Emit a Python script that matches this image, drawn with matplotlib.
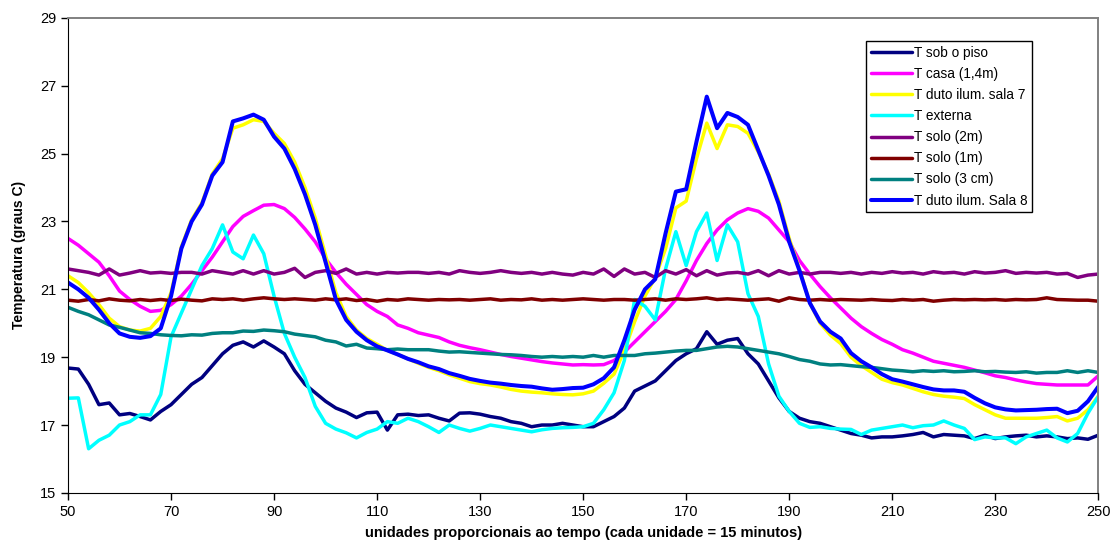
import numpy as np
import matplotlib
matplotlib.use("Agg")
import matplotlib.pyplot as plt

plt.rcParams['font.family'] = ['Liberation Sans', 'DejaVu Sans']

# time axis: one reading every 2 units (1 unit = 15 min)
x = np.arange(50, 251, 2)

t_piso = [
    18.68, 18.65, 18.2, 17.6, 17.65, 17.3, 17.34, 17.25, 17.15, 17.4,
    17.6, 17.9, 18.2, 18.4, 18.75, 19.1, 19.35, 19.45, 19.3, 19.48,
    19.3, 19.1, 18.6, 18.2, 17.95, 17.7, 17.5, 17.38, 17.22, 17.36,
    17.38, 16.85, 17.3, 17.32, 17.28, 17.3, 17.2, 17.12, 17.35, 17.36,
    17.32, 17.25, 17.2, 17.1, 17.05, 16.95, 17.0, 17.0, 17.05, 17.0,
    16.95, 16.95, 17.1, 17.25, 17.5, 18.0, 18.15, 18.3, 18.6, 18.9,
    19.1, 19.25, 19.75, 19.38, 19.5, 19.55, 19.1, 18.8, 18.3, 17.8,
    17.4, 17.2, 17.1, 17.05, 16.95, 16.85, 16.75, 16.7, 16.62, 16.65,
    16.65, 16.68, 16.72, 16.78, 16.65, 16.72, 16.7, 16.68, 16.6, 16.7,
    16.6, 16.65, 16.68, 16.7, 16.65, 16.68, 16.65, 16.6, 16.62, 16.58,
    16.7,
]

t_casa = [
    22.5, 22.3, 22.05, 21.8, 21.4, 20.95, 20.7, 20.5, 20.35, 20.38,
    20.55, 20.8, 21.15, 21.55, 21.95, 22.4, 22.85, 23.15, 23.32, 23.48,
    23.5, 23.38, 23.12, 22.78, 22.4, 21.9, 21.5, 21.15, 20.85, 20.55,
    20.35, 20.2, 19.95, 19.85, 19.72, 19.65, 19.58, 19.45, 19.35, 19.28,
    19.22, 19.15, 19.08, 19.02, 18.97, 18.92, 18.87, 18.83, 18.8, 18.77,
    18.78, 18.77, 18.78, 18.9, 19.15, 19.45, 19.75, 20.05, 20.35, 20.7,
    21.25, 21.85, 22.35, 22.75, 23.05, 23.25, 23.38, 23.3, 23.1, 22.75,
    22.4, 21.85, 21.45, 21.08, 20.75, 20.45, 20.15, 19.9, 19.7, 19.52,
    19.38, 19.22, 19.12, 19.0, 18.88, 18.82, 18.76, 18.7, 18.62, 18.54,
    18.45, 18.4, 18.33, 18.27, 18.22, 18.2, 18.18, 18.18, 18.18, 18.18,
    18.45,
]

t_duto7 = [
    21.4, 21.2, 20.9, 20.55, 20.15, 19.9, 19.8, 19.77, 19.85, 20.2,
    20.9, 22.25, 23.05, 23.55, 24.4, 24.85, 25.75, 25.85, 26.0, 25.95,
    25.6, 25.3, 24.75, 24.0, 23.1, 22.0, 20.9, 20.2, 19.8, 19.55,
    19.38, 19.2, 19.08, 18.95, 18.82, 18.7, 18.6, 18.48, 18.38, 18.28,
    18.22, 18.18, 18.12, 18.05, 18.0, 17.97, 17.95, 17.92, 17.9, 17.89,
    17.92, 18.0, 18.23, 18.5, 19.2, 20.05, 20.8, 21.35, 22.2, 23.4,
    23.6, 24.85, 25.9, 25.15, 25.85, 25.8, 25.6, 25.05, 24.4, 23.6,
    22.5, 21.6, 20.6, 20.0, 19.65, 19.4, 19.0, 18.75, 18.55, 18.35,
    18.25, 18.18, 18.08, 17.98, 17.9, 17.85, 17.82, 17.78, 17.6, 17.45,
    17.3, 17.2, 17.2, 17.2, 17.2, 17.22, 17.25, 17.12, 17.2, 17.45,
    17.85,
]

t_externa = [
    17.79, 17.8, 16.3, 16.55, 16.7, 17.0, 17.1, 17.3, 17.3, 17.9,
    19.6, 20.3, 21.0, 21.7, 22.2, 22.9, 22.1, 21.9, 22.6, 22.05,
    20.8, 19.7, 19.0, 18.4, 17.55, 17.05, 16.88, 16.77, 16.62, 16.78,
    16.88, 17.1, 17.05, 17.2, 17.1, 16.95, 16.78, 17.0, 16.9, 16.82,
    16.9, 17.0, 16.95, 16.9, 16.85, 16.8, 16.86, 16.9, 16.92, 16.93,
    16.95, 17.05, 17.45, 17.95, 18.9, 20.7, 20.5, 20.1, 21.6, 22.7,
    21.7, 22.7, 23.25, 21.85, 22.9, 22.4, 20.87, 20.2, 18.8, 17.85,
    17.4, 17.05, 16.93, 16.95, 16.9, 16.88, 16.87, 16.72, 16.85, 16.9,
    16.95, 17.0, 16.92, 16.98, 17.0, 17.12, 17.0, 16.9, 16.57, 16.65,
    16.62, 16.62, 16.45, 16.65, 16.75, 16.85, 16.62, 16.5, 16.75, 17.35,
    17.84,
]

t_solo_2m = [
    21.6, 21.55, 21.5, 21.42, 21.6, 21.42, 21.48, 21.55, 21.48, 21.5,
    21.47, 21.5, 21.5, 21.45, 21.55, 21.5, 21.45, 21.55, 21.45, 21.55,
    21.45, 21.5, 21.62, 21.35, 21.5, 21.55, 21.47, 21.6, 21.45, 21.5,
    21.45, 21.5, 21.48, 21.5, 21.5, 21.47, 21.5, 21.45, 21.55, 21.5,
    21.47, 21.5, 21.55, 21.5, 21.47, 21.5, 21.45, 21.5, 21.45, 21.42,
    21.5, 21.45, 21.6, 21.38, 21.6, 21.45, 21.5, 21.35, 21.55, 21.45,
    21.58, 21.4, 21.55, 21.42, 21.48, 21.5, 21.45, 21.55, 21.4, 21.55,
    21.45, 21.5, 21.45, 21.5, 21.5, 21.47, 21.5, 21.45, 21.5, 21.47,
    21.52, 21.48, 21.5, 21.45, 21.52, 21.48, 21.5, 21.45, 21.52, 21.48,
    21.5, 21.55, 21.47, 21.5, 21.48, 21.5, 21.45, 21.47, 21.35, 21.42,
    21.45,
]

t_solo_1m = [
    20.68, 20.65, 20.7, 20.66, 20.72, 20.68, 20.66, 20.7, 20.67, 20.7,
    20.67, 20.71, 20.68, 20.66, 20.72, 20.7, 20.72, 20.68, 20.72, 20.75,
    20.72, 20.7, 20.72, 20.7, 20.68, 20.72, 20.69, 20.72, 20.67, 20.7,
    20.65, 20.7, 20.68, 20.72, 20.7, 20.68, 20.7, 20.69, 20.7, 20.68,
    20.7, 20.72, 20.68, 20.7, 20.69, 20.72, 20.68, 20.7, 20.68, 20.7,
    20.72, 20.7, 20.68, 20.7, 20.7, 20.68, 20.7, 20.72, 20.68, 20.72,
    20.7, 20.72, 20.75, 20.7, 20.72, 20.7, 20.68, 20.7, 20.72, 20.65,
    20.75, 20.7, 20.68, 20.7, 20.68, 20.7, 20.69, 20.68, 20.7, 20.68,
    20.67, 20.7, 20.68, 20.7, 20.65, 20.68, 20.7, 20.69, 20.7, 20.69,
    20.7, 20.68, 20.7, 20.69, 20.7, 20.75, 20.7, 20.69, 20.68, 20.68,
    20.65,
]

t_solo_3cm = [
    20.47, 20.35, 20.25, 20.1, 19.95, 19.88, 19.8, 19.72, 19.7, 19.66,
    19.64, 19.63, 19.66, 19.65, 19.7, 19.72, 19.72, 19.77, 19.76, 19.8,
    19.78, 19.75, 19.68, 19.64, 19.6, 19.5, 19.45, 19.33, 19.38, 19.27,
    19.25, 19.22, 19.24, 19.22, 19.22, 19.22, 19.18, 19.15, 19.16, 19.14,
    19.12, 19.1, 19.08, 19.07, 19.05, 19.02, 19.0, 19.02, 19.0, 19.02,
    19.0, 19.05, 19.0, 19.05, 19.05, 19.05, 19.1, 19.12, 19.15, 19.18,
    19.2, 19.2, 19.25, 19.3, 19.32, 19.3, 19.25, 19.2, 19.15, 19.1,
    19.02, 18.93, 18.88, 18.8, 18.77, 18.78, 18.75, 18.72, 18.7, 18.66,
    18.62, 18.6, 18.57, 18.6, 18.58, 18.6, 18.57, 18.58, 18.6, 18.57,
    18.58, 18.56, 18.55, 18.57, 18.53, 18.55, 18.55, 18.6, 18.55, 18.6,
    18.55,
]

t_duto8 = [
    21.2, 21.0, 20.75, 20.4, 20.0, 19.7, 19.6, 19.57, 19.62, 19.85,
    20.8, 22.2, 23.0, 23.5, 24.35, 24.75, 25.95, 26.04, 26.15, 26.0,
    25.5, 25.15, 24.55, 23.8, 22.9, 21.8, 20.7, 20.1, 19.75, 19.5,
    19.32, 19.2, 19.08, 18.95, 18.85, 18.73, 18.65, 18.53, 18.45, 18.36,
    18.3, 18.25, 18.22, 18.18, 18.15, 18.13, 18.08, 18.04, 18.06, 18.09,
    18.1, 18.2, 18.38, 18.7, 19.5, 20.4, 21.0, 21.3, 22.65, 23.88,
    23.95, 25.35, 26.68, 25.75, 26.2, 26.08, 25.85, 25.1, 24.35, 23.5,
    22.4, 21.55, 20.6, 20.05, 19.75, 19.55, 19.12, 18.88, 18.7, 18.5,
    18.35, 18.28, 18.2, 18.12, 18.05, 18.02, 18.02, 17.98, 17.8, 17.64,
    17.52, 17.46, 17.43, 17.44, 17.45, 17.47, 17.48, 17.35, 17.42, 17.7,
    18.13,
]

series = [
    ("T sob o piso", t_piso, "#000080"),
    ("T casa (1,4m)", t_casa, "#FF00FF"),
    ("T duto ilum. sala 7", t_duto7, "#FFFF00"),
    ("T externa", t_externa, "#00FFFF"),
    ("T solo (2m)", t_solo_2m, "#800080"),
    ("T solo (1m)", t_solo_1m, "#800000"),
    ("T solo (3 cm)", t_solo_3cm, "#008080"),
    ("T duto ilum. Sala 8", t_duto8, "#0000FF"),
]

fig = plt.figure(figsize=(11.15, 5.44), dpi=100)
ax = fig.add_axes([0.061, 0.094, 0.924, 0.873])

for name, vals, c in series:
    lw = 2.9 if c == "#0000FF" else 2.5
    ax.plot(x, vals, color=c, lw=lw, label=name,
            solid_joinstyle='round', solid_capstyle='round')

ax.set_xlim(50, 250)
ax.set_ylim(15, 29)
ax.set_xticks(np.arange(50, 251, 20))
ax.set_yticks(np.arange(15, 30, 2))
ax.tick_params(direction='out', length=5, width=1, labelsize=10.5, colors='black')

ax.spines['left'].set_color('black')
ax.spines['bottom'].set_color('black')
for s in ['top', 'right']:
    ax.spines[s].set_color('#808080')
    ax.spines[s].set_linewidth(1.4)

ax.set_ylabel("Temperatura (graus C)", fontsize=10, fontweight='bold', labelpad=10)
ax.set_xlabel("unidades proporcionais ao tempo (cada unidade = 15 minutos)",
              fontsize=10.5, fontweight='bold', labelpad=5)

leg = ax.legend(loc='upper left', bbox_to_anchor=(0.775, 0.951), fontsize=9.8,
                fancybox=False, framealpha=1, edgecolor='black', handlelength=3.0,
                handletextpad=0.15, labelspacing=0.52, borderpad=0.35, borderaxespad=0)
leg.get_frame().set_linewidth(1.0)

plt.savefig("out.png", dpi=100)
